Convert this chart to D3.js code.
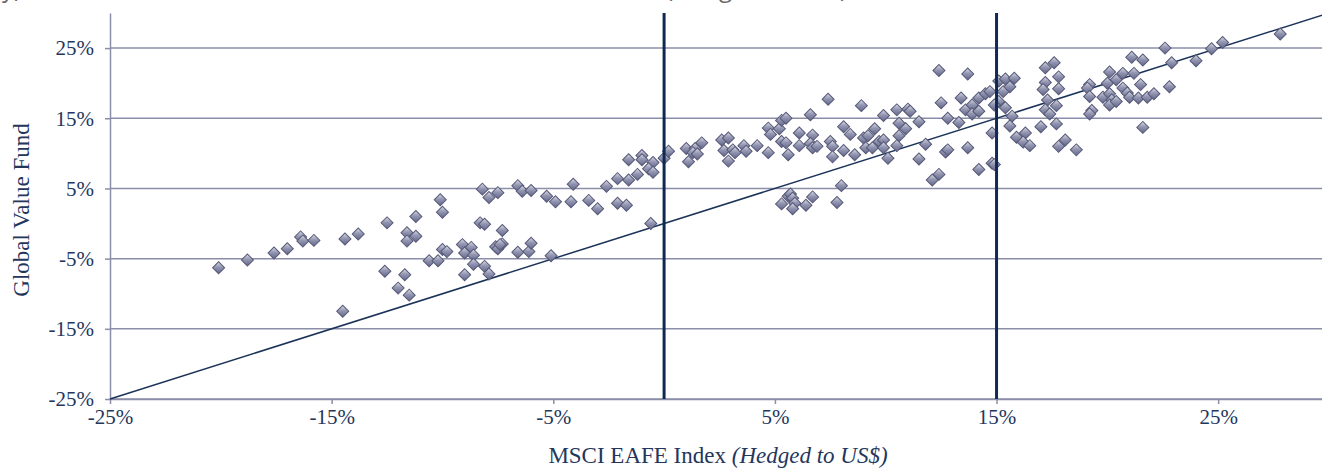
<!DOCTYPE html>
<html>
<head>
<meta charset="utf-8">
<script src="https://cdn.jsdelivr.net/npm/d3@7"></script>
<style>
  html, body { margin: 0; padding: 0; background: #fff; }
  svg { display: block; font-family: "Liberation Serif", "DejaVu Serif", serif; }
</style>
</head>
<body>
<svg id="chart"></svg>
<script>
// axis ticks (percent)
const xTicks = [-25, -15, -5, 5, 15, 25];
const yTicks = [-25, -15, -5, 5, 15, 25];
// thick reference lines on the index axis
const markerLines = [0, 15];
// quarterly rolling returns: [MSCI EAFE (hedged), Global Value Fund]
const points = [
  [-20.1,-6.3],[-18.8,-5.2],[-17.6,-4.2],[-17.0,-3.6],[-16.4,-1.9],[-16.3,-2.5],[-15.8,-2.4],[-14.4,-2.2],[-14.5,-12.5],[-13.8,-1.5],
  [-12.5,0.1],[-11.2,1.0],[-11.6,-1.3],[-11.2,-1.8],[-11.6,-2.5],[-10.1,3.4],[-10.0,1.6],[-12.6,-6.8],[-11.7,-7.3],[-12.0,-9.2],
  [-11.5,-10.2],[-10.6,-5.3],[-10.2,-5.3],[-10.0,-3.7],[-9.8,-4.0],[-9.1,-3.0],[-9.0,-4.2],[-8.7,-3.4],[-8.6,-4.5],[-8.6,-5.8],
  [-9.0,-7.3],[-8.1,-6.1],[-7.9,-7.2],[-8.3,0.1],[-8.1,-0.1],[-7.3,-1.0],[-7.6,-3.3],[-7.5,-3.6],[-7.3,-2.9],[-7.4,-3.0],
  [-6.6,-4.1],[-6.1,-4.0],[-6.0,-2.8],[-5.1,-4.6],[-8.2,4.9],[-7.9,3.7],[-7.5,4.4],[-6.6,5.4],[-6.4,4.6],[-6.0,4.7],
  [-5.3,3.9],[-4.9,3.1],[-4.2,3.1],[-4.1,5.6],[-3.4,3.3],[-3.0,2.1],[-2.6,5.3],[-2.1,2.9],[-1.7,2.6],[-2.1,6.4],
  [-1.6,6.2],[-1.2,7.0],[-1.6,9.1],[-1.0,9.7],[-1.0,9.1],[-0.5,8.7],[-0.7,7.8],[-0.5,7.3],[0.0,9.3],[0.2,10.3],
  [-0.6,0.0],[1.0,10.7],[1.4,10.7],[1.7,11.5],[1.3,10.1],[1.5,9.9],[1.1,8.8],[2.6,11.9],[2.9,12.2],[2.7,10.4],
  [3.1,10.5],[3.2,10.1],[2.9,8.9],[3.6,11.1],[3.7,10.3],[4.2,11.1],[4.7,10.1],[4.7,13.6],[4.8,12.7],[5.2,13.5],
  [5.3,14.7],[5.5,15.0],[5.3,11.7],[5.5,11.5],[5.6,9.8],[5.3,2.8],[5.6,3.9],[6.1,12.9],[6.1,11.1],[6.6,15.5],
  [6.7,12.6],[6.6,11.4],[6.7,10.8],[6.9,11.0],[7.4,17.7],[7.5,11.7],[7.6,11.0],[7.6,9.5],[8.1,10.4],[8.1,13.8],
  [8.4,12.7],[8.6,9.8],[8.9,16.8],[9.0,12.2],[9.2,12.5],[9.5,13.5],[9.1,10.8],[9.4,10.8],[9.7,11.7],[9.9,11.9],
  [9.9,10.8],[10.1,9.3],[9.9,15.4],[10.5,16.2],[10.6,14.3],[10.6,12.5],[10.9,13.5],[10.5,11.1],[11.0,16.3],[11.1,16.0],
  [11.5,14.5],[11.8,11.3],[11.5,9.2],[12.4,21.8],[12.5,17.2],[12.8,15.0],[13.4,17.9],[13.3,14.4],[13.7,21.3],[13.6,16.2],
  [13.9,16.9],[13.9,15.6],[14.2,16.0],[14.2,17.9],[14.5,18.5],[12.7,10.2],[12.8,10.5],[13.7,10.8],[14.8,12.9],[12.4,7.0],
  [12.1,6.2],[14.2,7.7],[14.8,8.6],[14.9,8.4],[5.7,4.2],[5.8,3.6],[5.9,2.9],[5.8,2.1],[6.4,2.6],[6.7,3.8],
  [7.8,3.0],[8.0,5.4],[15.1,20.3],[15.4,20.6],[15.3,18.8],[15.1,17.4],[14.9,16.9],[15.4,16.5],[15.6,19.5],[15.8,20.7],
  [15.7,15.3],[15.6,13.9],[14.7,18.8],[15.9,12.3],[16.3,12.9],[16.2,11.6],[16.5,11.1],[17.2,22.2],[17.6,22.9],[17.2,20.1],
  [17.1,19.1],[17.8,20.9],[17.8,19.2],[17.3,17.6],[17.7,16.8],[17.2,16.2],[17.4,15.6],[17.0,13.8],[17.7,14.2],[18.1,11.9],
  [17.8,11.0],[18.6,10.5],[19.2,19.8],[19.1,19.3],[19.2,18.1],[19.3,16.1],[19.2,15.6],[20.1,21.6],[20.0,20.0],[20.4,20.5],
  [19.8,18.0],[20.1,18.5],[20.2,17.6],[20.1,16.9],[20.4,17.4],[20.7,21.4],[20.7,19.3],[20.9,18.6],[21.0,18.0],[21.1,23.7],
  [21.6,23.3],[21.2,21.4],[21.5,19.8],[21.4,17.9],[21.8,18.0],[22.1,18.5],[22.8,19.5],[21.6,13.7],[22.6,25.0],[22.9,22.9],
  [24.0,23.2],[24.7,24.9],[25.2,25.8],[27.8,27.0]
];

class Scatterplot {
  margin = { top: 13, right: -7, bottom: 71, left: 110 };

  constructor(svg, width = 1322, height = 470) {
    this.svg = svg;
    this.width = width;
    this.height = height;
  }

  initialize() {
    this.svg = d3.select(this.svg)
      .attr("width", this.width)
      .attr("height", this.height);

    const defs = this.svg.append("defs");
    const grad = defs.append("linearGradient")
      .attr("id", "dot-fill")
      .attr("x1", "0").attr("y1", "0").attr("x2", "1").attr("y2", "1");
    grad.append("stop").attr("offset", "0%").attr("stop-color", "#dcdde8");
    grad.append("stop").attr("offset", "45%").attr("stop-color", "#9497b1");
    grad.append("stop").attr("offset", "100%").attr("stop-color", "#62658a");

    this.innerW = this.width - this.margin.left - this.margin.right;
    this.innerH = this.height - this.margin.top - this.margin.bottom;

    this.xScale = d3.scaleLinear().domain([-25, 30]).range([0, this.innerW]);
    this.yScale = d3.scaleLinear().domain([-25, 30]).range([this.innerH, 0]);

    this.container = this.svg.append("g")
      .attr("transform", `translate(${this.margin.left}, ${this.margin.top})`);
  }

  render() {
    const x = this.xScale, y = this.yScale;
    const textColor = "#24365c";
    const gridColor = "#8b8ea8";

    // horizontal gridlines
    this.container.selectAll(".grid")
      .data(yTicks)
      .join("line")
      .attr("class", "grid")
      .attr("x1", 0)
      .attr("x2", this.innerW)
      .attr("y1", d => y(d))
      .attr("y2", d => y(d))
      .attr("stroke", gridColor)
      .attr("stroke-width", 1.5);

    // axes
    const yAxis = this.container.append("g")
      .call(d3.axisLeft(y).tickValues(yTicks).tickSize(5).tickSizeOuter(0).tickFormat(d => d + "%"));
    const xAxis = this.container.append("g")
      .attr("transform", `translate(0, ${this.innerH})`)
      .call(d3.axisBottom(x).tickValues(xTicks).tickSize(5).tickSizeOuter(0).tickFormat(d => d + "%"));

    [xAxis, yAxis].forEach(a => {
      a.select(".domain").attr("stroke", gridColor).attr("stroke-width", 1.5);
      a.selectAll(".tick line").attr("stroke", gridColor).attr("stroke-width", 1.5);
      a.selectAll(".tick text")
        .attr("fill", textColor)
        .style("font-family", "'Liberation Serif', serif")
        .style("font-size", "21px");
    });
    yAxis.selectAll(".tick text").attr("x", -16);
    xAxis.selectAll(".tick text").attr("y", 10);

    // y = x reference line
    this.container.append("line")
      .attr("x1", x(-25)).attr("y1", y(-25))
      .attr("x2", x(30)).attr("y2", y(30))
      .attr("stroke", "#1b3358")
      .attr("stroke-width", 1.5);

    // points
    const diamond = d3.symbol(d3.symbolSquare, 72);
    this.container.selectAll(".dot")
      .data(points)
      .join("path")
      .attr("class", "dot")
      .attr("d", diamond)
      .attr("transform", d => `translate(${x(d[0])}, ${y(d[1])}) rotate(45)`)
      .attr("fill", "url(#dot-fill)")
      .attr("stroke", "#565978")
      .attr("stroke-width", 1);

    // thick vertical markers
    this.container.selectAll(".marker")
      .data(markerLines)
      .join("line")
      .attr("class", "marker")
      .attr("x1", d => x(d)).attr("x2", d => x(d))
      .attr("y1", 0).attr("y2", this.innerH)
      .attr("stroke", "#0f2a52")
      .attr("stroke-width", 3);

    // axis titles
    const xTitle = this.svg.append("text")
      .attr("x", 718)
      .attr("y", 463)
      .attr("text-anchor", "middle")
      .attr("fill", textColor)
      .style("font-size", "23px");
    xTitle.append("tspan").text("MSCI EAFE Index ");
    xTitle.append("tspan").style("font-style", "italic").text("(Hedged to US$)");

    this.svg.append("text")
      .attr("transform", "translate(29, 210) rotate(-90)")
      .attr("text-anchor", "middle")
      .attr("fill", textColor)
      .style("font-size", "23px")
      .text("Global Value Fund");

    // title lines, cut off above the frame as in the source image
    this.svg.append("text")
      .attr("x", 21).attr("y", -3)
      .attr("text-anchor", "end")
      .attr("fill", "#666")
      .style("font-family", "'Open Sans', sans-serif")
      .style("font-size", "24px")
      .text("(Quarterly)");
    this.svg.append("text")
      .attr("x", 666).attr("y", -3)
      .attr("fill", "#666")
      .style("font-family", "'Open Sans', sans-serif")
      .style("font-size", "24px")
      .text("(Hedged to US$)");
  }
}

const chart = new Scatterplot(document.getElementById("chart"));
chart.initialize();
chart.render();
</script>
</body>
</html>
